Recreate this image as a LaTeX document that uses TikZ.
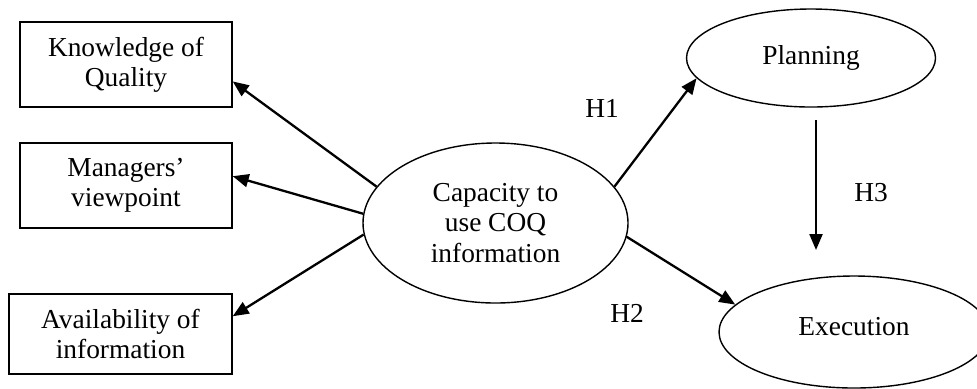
\documentclass[tikz,border=0pt]{standalone}
\usepackage{fontspec}
\setmainfont{Liberation Serif}
\usetikzlibrary{arrows.meta,shapes.geometric}
\begin{document}
\begin{tikzpicture}[x=0.5pt,y=-0.5pt,
  every node/.style={font=\fontsize{13.7pt}{15.2pt}\selectfont},
  boxnode/.style={draw,line width=0.7pt,align=center,inner sep=0pt},
  ellnode/.style={draw,ellipse,line width=0.7pt,align=center,inner sep=0pt},
  arr/.style={line width=1.15pt,-{Triangle[length=8pt,width=6.5pt]}},
  lbl/.style={inner sep=0pt}]
\useasboundingbox (0,0) rectangle (977,388);
\node[boxnode,minimum width=106pt,minimum height=42.5pt] (k) at (126,64.5) {Knowledge of\\Quality};
\node[boxnode,minimum width=106pt,minimum height=42.5pt] (m) at (126,185.5) {Managers'\\viewpoint};
\node[boxnode,minimum width=111.5pt,minimum height=40pt] (a) at (120.5,334) {Availability of\\information};
\node[ellnode,minimum width=132.5pt,minimum height=80pt] (cap) at (495.5,223) {Capacity to\\use COQ\\information};
\node[ellnode,minimum width=124.5pt,minimum height=49pt] (plan) at (811,58) {\raisebox{3pt}{Planning}};
\node[ellnode,minimum width=135pt,minimum height=56pt] (exec) at (854,332) {\raisebox{6pt}{Execution}};
\draw[arr] (cap.163.7) -- (k.-9.4);
\draw[arr] (cap.176.5) -- (m.5.1);
\draw[arr] (cap.185.6) -- (a.9.7);
\draw[arr] (cap.17.6) -- (plan.190);
\draw[arr] (cap.-6.5) -- (exec.167.8);
\coordinate (h3s) at (816,120);
\coordinate (h3e) at (816,250);
\draw[arr] (h3s) -- (h3e);
\node[lbl] (h1) at (602,108) {H1};
\node[lbl] (h2) at (627,313) {H2};
\node[lbl] (h3) at (871,193) {H3};
\end{tikzpicture}
\end{document}
